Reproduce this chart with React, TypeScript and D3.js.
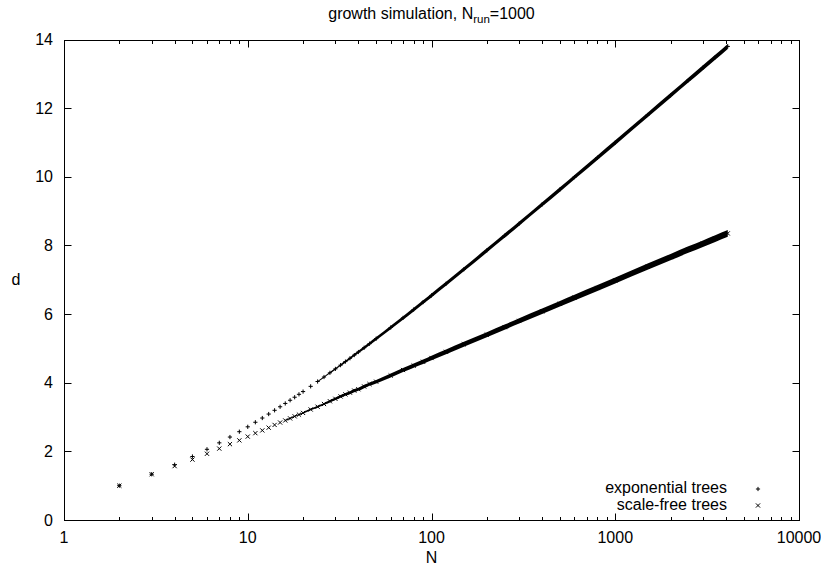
import React from "react";
import * as d3 from "d3";

// ---- data ----
const N_VALUES = [
  2, 3, 4, 5, 6, 7, 8, 9, 10, 11, 12, 13, 14, 15, 16, 17, 18, 19, 20,
  22, 24, 26, 28, 30, 32, 34, 36, 38, 40, 43, 46, 50, 60, 70, 80, 90, 100,
  120, 150, 200, 250, 300, 400, 500, 600, 800, 1000, 1500, 2000, 2500, 3000, 3500, 4096,
];
const D_EXPONENTIAL = [
  1.0, 1.333, 1.611, 1.85, 2.06, 2.248, 2.417, 2.573, 2.715, 2.848, 2.971, 3.087, 3.196, 3.299, 3.396, 3.489, 3.577, 3.662, 3.742,
  3.894, 4.035, 4.166, 4.288, 4.403, 4.512, 4.615, 4.712, 4.805, 4.894, 5.019, 5.137, 5.284, 5.609, 5.888, 6.132, 6.349, 6.544,
  6.885, 7.305, 7.854, 8.283, 8.636, 9.196, 9.632, 9.99, 10.556, 10.997, 11.8, 12.371, 12.815, 13.178, 13.484, 13.798,
];
const D_SCALE_FREE = [
  1.0, 1.333, 1.57, 1.76, 1.93, 2.08, 2.21, 2.32, 2.43, 2.53, 2.61, 2.69, 2.77, 2.84, 2.9, 2.96, 3.02, 3.07, 3.12,
  3.22, 3.3, 3.38, 3.46, 3.53, 3.6, 3.66, 3.71, 3.77, 3.81, 3.89, 3.96, 4.03, 4.21, 4.37, 4.5, 4.61, 4.72,
  4.9, 5.12, 5.4, 5.62, 5.8, 6.08, 6.3, 6.48, 6.76, 6.98, 7.38, 7.66, 7.88, 8.05, 8.2, 8.35,
];
const X_TICKS = [1, 10, 100, 1000, 10000];
const Y_TICKS = [0, 2, 4, 6, 8, 10, 12, 14];
const SERIES_LABELS = ["exponential trees", "scale-free trees"];
const TITLE_MAIN = "growth simulation, N";
const TITLE_SUB = "run";
const TITLE_TAIL = "=1000";
const X_LABEL = "N";
const Y_LABEL = "d";

const W = 821;
const H = 566;
const FONT = "'Liberation Sans', Arial, sans-serif";

type Pt = { n: number; d: number };

export default function App() {
  const left = 64, right = 799, top = 39.5, bottom = 520;
  const x = d3.scaleLog().domain([1, 10000]).range([left, right]);
  const y = d3.scaleLinear().domain([0, 14]).range([bottom, top]);

  const minorTicks: number[] = [];
  for (let dec = 1; dec < 10000; dec *= 10) {
    for (let k = 2; k <= 9; k++) minorTicks.push(dec * k);
  }

  const exp: Pt[] = N_VALUES.map((n, i) => ({ n, d: D_EXPONENTIAL[i] }));
  const sf: Pt[] = N_VALUES.map((n, i) => ({ n, d: D_SCALE_FREE[i] }));

  // band thickness (half, vertical px) as a style ramp along the x axis
  const expHalf = d3.scaleLinear().domain([x(24), x(45), x(100), x(4096)]).range([0.5, 1.5, 2.0, 2.5]).clamp(true);
  const sfHalf = d3.scaleLinear().domain([x(16), x(40), x(100), x(4096)]).range([0.5, 1.6, 2.3, 3.4]).clamp(true);

  const band = (data: Pt[], half: (px: number) => number, start: number) =>
    d3
      .area<Pt>()
      .x((p) => x(p.n))
      .y0((p) => y(p.d) + half(x(p.n)))
      .y1((p) => y(p.d) - half(x(p.n)))
      .curve(d3.curveMonotoneX)(data.filter((p) => p.n >= start)) || "";

  const s = 2.1;
  const plus = (cx: number, cy: number) => `M${cx - s},${cy}h${2 * s}M${cx},${cy - s}v${2 * s}`;
  const cross = (cx: number, cy: number) =>
    `M${cx - s},${cy - s}l${2 * s},${2 * s}M${cx - s},${cy + s}l${2 * s},${-2 * s}`;

  const px = (v: number) => Math.round(v) + 0.5;

  return (
    <svg
      width={W}
      height={H}
      style={{ position: "fixed", left: 0, top: 0, background: "#fff" }}
      fontFamily={FONT}
      fontSize={16}
    >
      <rect x={0} y={0} width={W} height={H} fill="#fff" />
      {/* title */}
      <text x={431.5} y={19} textAnchor="middle" fill="#000">
        <tspan>{TITLE_MAIN}</tspan>
        <tspan fontSize={11.5} dy={3.5}>{TITLE_SUB}</tspan>
        <tspan dy={-3.5}>{TITLE_TAIL}</tspan>
      </text>

      {/* data bands (dense region) */}
      <path d={band(exp, expHalf, 24)} fill="#000" />
      <path d={band(sf, sfHalf, 16)} fill="#000" />

      {/* markers */}
      <path
        d={exp.map((p) => plus(x(p.n), y(p.d))).join("")}
        stroke="#000"
        strokeWidth={1}
        fill="none"
      />
      <path
        d={sf.map((p) => cross(x(p.n), y(p.d))).join("")}
        stroke="#000"
        strokeWidth={1}
        fill="none"
      />

      {/* frame */}
      <rect
        x={px(left)}
        y={px(top)}
        width={px(right) - px(left)}
        height={px(bottom) - px(top)}
        fill="none"
        stroke="#000"
        strokeWidth={1}
      />

      {/* x ticks */}
      {X_TICKS.map((t) => (
        <g key={"x" + t}>
          <line x1={px(x(t))} x2={px(x(t))} y1={px(bottom)} y2={px(bottom) - 7} stroke="#000" />
          <line x1={px(x(t))} x2={px(x(t))} y1={px(top)} y2={px(top) + 7} stroke="#000" />
          <text x={x(t)} y={543} textAnchor="middle" fill="#000">{t}</text>
        </g>
      ))}
      {minorTicks.map((t) => (
        <g key={"m" + t}>
          <line x1={px(x(t))} x2={px(x(t))} y1={px(bottom)} y2={px(bottom) - 3.5} stroke="#000" />
          <line x1={px(x(t))} x2={px(x(t))} y1={px(top)} y2={px(top) + 3.5} stroke="#000" />
        </g>
      ))}

      {/* y ticks */}
      {Y_TICKS.map((t) => (
        <g key={"y" + t}>
          <line x1={px(left)} x2={px(left) + 7} y1={px(y(t))} y2={px(y(t))} stroke="#000" />
          <line x1={px(right)} x2={px(right) - 7} y1={px(y(t))} y2={px(y(t))} stroke="#000" />
          <text x={53} y={y(t) + 5.7} textAnchor="end" fill="#000">{t}</text>
        </g>
      ))}

      {/* axis labels */}
      <text x={431.5} y={563} textAnchor="middle" fill="#000">{X_LABEL}</text>
      <text x={16} y={285} textAnchor="middle" fill="#000">{Y_LABEL}</text>

      {/* legend */}
      <text x={727} y={493} textAnchor="end" fill="#000">{SERIES_LABELS[0]}</text>
      <text x={727} y={509.5} textAnchor="end" fill="#000">{SERIES_LABELS[1]}</text>
      <path d={plus(758, 489)} stroke="#000" strokeWidth={1} fill="none" />
      <path d={cross(758, 505.5)} stroke="#000" strokeWidth={1} fill="none" />
    </svg>
  );
}
